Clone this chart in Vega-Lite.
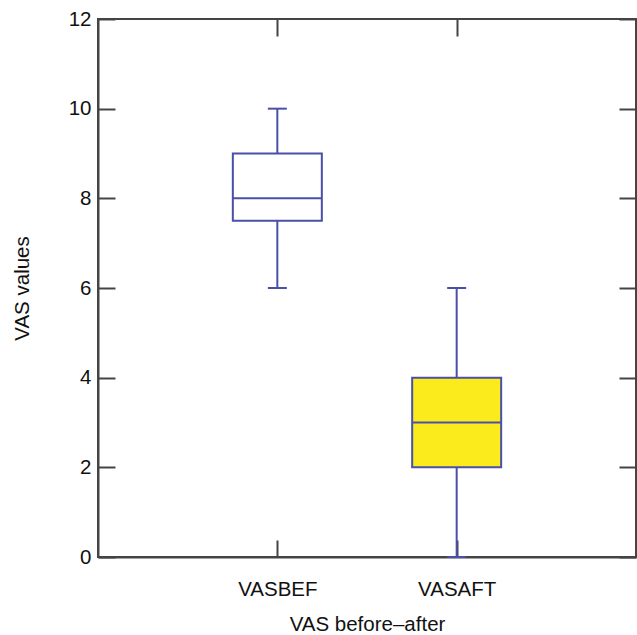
{
  "$schema": "https://vega.github.io/schema/vega-lite/v6.json",
  "width": 538,
  "height": 538,
  "autosize": "none",
  "padding": {"left": 98, "top": 19, "right": 1, "bottom": 78},
  "background": "white",
  "config": {
    "view": {"stroke": "#444444", "strokeWidth": 2},
    "font": "Liberation Sans",
    "axis": {
      "domainColor": "#444444",
      "domainWidth": 2,
      "tickColor": "#444444",
      "tickWidth": 2,
      "tickSize": -17,
      "grid": false,
      "labelFont": "Liberation Sans",
      "labelFontSize": 20.5,
      "labelColor": "#111111",
      "titleFont": "Liberation Sans",
      "titleFontSize": 20.5,
      "titleFontWeight": "normal",
      "titleColor": "#111111"
    }
  },
  "data": {
    "values": [
      {"group": "VASBEF", "min": 6, "q1": 7.5, "median": 8, "q3": 9, "max": 10},
      {"group": "VASAFT", "min": 0, "q1": 2, "median": 3, "q3": 4, "max": 6}
    ]
  },
  "resolve": {"axis": {"x": "independent", "y": "independent"}},
  "layer": [
    {
      "mark": {"type": "rule", "color": "#4a50a8", "strokeWidth": 2},
      "encoding": {
        "x": {
          "field": "group", "type": "nominal", "sort": ["VASBEF", "VASAFT"],
          "scale": {"type": "point", "padding": 1},
          "axis": {"orient": "bottom", "title": "VAS before–after", "labelAngle": 0, "labelPadding": 39, "titlePadding": 15}
        },
        "y": {
          "field": "min", "type": "quantitative",
          "scale": {"domain": [0, 12], "nice": false},
          "axis": {"orient": "left", "title": "VAS values", "values": [0, 2, 4, 6, 8, 10, 12], "labelPadding": 24, "titlePadding": 36}
        },
        "y2": {"field": "max"}
      }
    },
    {
      "mark": {"type": "tick", "color": "#4a50a8", "thickness": 2, "size": 19, "opacity": 1},
      "encoding": {
        "x": {
          "field": "group", "type": "nominal", "sort": ["VASBEF", "VASAFT"],
          "axis": {"orient": "top", "title": null, "labels": false, "domain": false}
        },
        "y": {
          "field": "min", "type": "quantitative",
          "axis": {"orient": "right", "title": null, "labels": false, "values": [0, 2, 4, 6, 8, 10, 12], "domain": false}
        }
      }
    },
    {
      "mark": {"type": "tick", "color": "#4a50a8", "thickness": 2, "size": 19, "opacity": 1},
      "encoding": {
        "x": {"field": "group", "type": "nominal", "sort": ["VASBEF", "VASAFT"], "axis": null},
        "y": {"field": "max", "type": "quantitative", "axis": null}
      }
    },
    {
      "mark": {"type": "bar", "width": 89, "stroke": "#4a50a8", "strokeWidth": 2, "opacity": 1},
      "encoding": {
        "x": {"field": "group", "type": "nominal", "sort": ["VASBEF", "VASAFT"], "axis": null},
        "y": {"field": "q1", "type": "quantitative", "axis": null},
        "y2": {"field": "q3"},
        "color": {
          "field": "group", "type": "nominal",
          "scale": {"domain": ["VASBEF", "VASAFT"], "range": ["#ffffff", "#fbeb1c"]},
          "legend": null
        }
      }
    },
    {
      "mark": {"type": "tick", "color": "#4a50a8", "thickness": 2, "size": 89, "opacity": 1},
      "encoding": {
        "x": {"field": "group", "type": "nominal", "sort": ["VASBEF", "VASAFT"], "axis": null},
        "y": {"field": "median", "type": "quantitative", "axis": null}
      }
    }
  ]
}
